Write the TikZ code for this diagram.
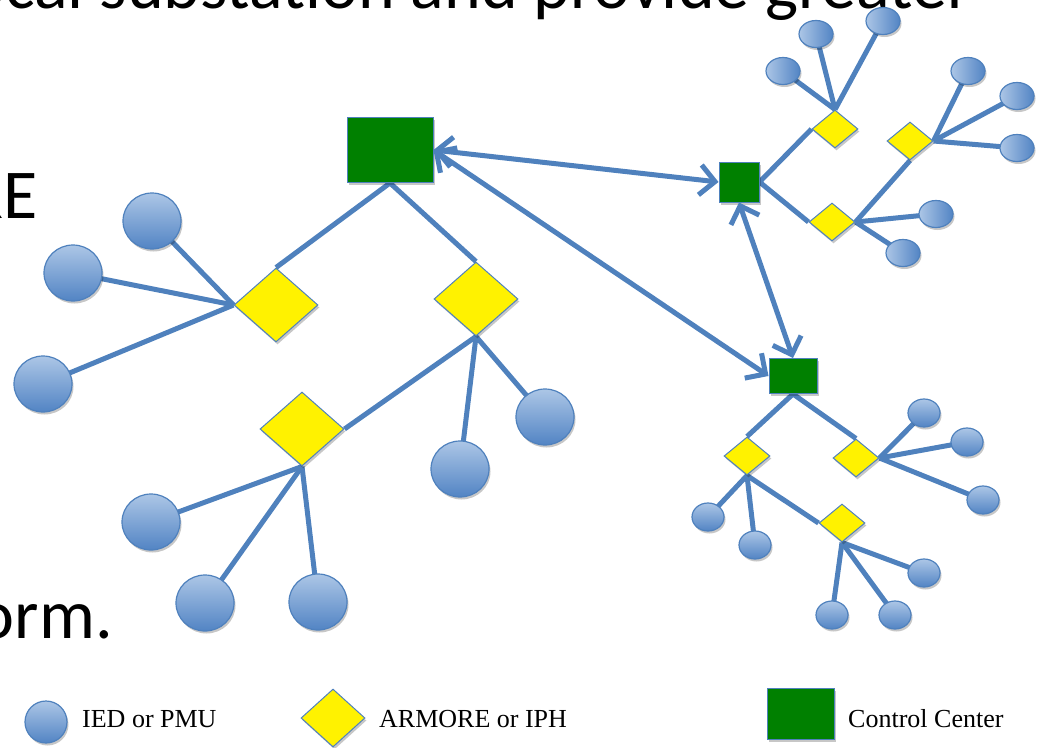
\documentclass[tikz,border=0pt]{standalone}
\usepackage{fontspec}
\setmainfont{Liberation Serif}
\newfontfamily\slidefont{Carlito}
\usetikzlibrary{shapes.geometric,arrows.meta,shadows,backgrounds}
\definecolor{lineblue}{RGB}{79,129,189}
\definecolor{circL}{RGB}{172,198,230}
\definecolor{circD}{RGB}{82,132,196}
\definecolor{ccgreen}{RGB}{0,128,0}
\begin{document}
\begin{tikzpicture}[x=1pt,y=-1pt,
  shad/.style={drop shadow={shadow xshift=1.5pt,shadow yshift=-2.5pt,opacity=0.22,fill=black}},
  iedbase/.style={ellipse, draw=lineblue, line width=1.2pt, inner sep=0pt, shad},
  iedL/.style={iedbase, top color=circL, bottom color=circD, minimum width=58pt, minimum height=56pt},
  iedS/.style={iedbase, left color=circL, right color=circD, minimum width=34pt, minimum height=27pt},
  iedM/.style={iedbase, top color=circL, bottom color=circD, minimum width=32pt, minimum height=28pt},
  arm/.style={diamond, draw=lineblue, line width=1pt, fill=yellow, inner sep=0pt, shad},
  armL/.style={arm, minimum width=84pt, minimum height=74pt},
  armS/.style={arm, minimum width=46pt, minimum height=38pt},
  cc/.style={rectangle, draw=lineblue, line width=1pt, fill=ccgreen, inner sep=0pt, shad},
  link/.style={draw=lineblue, line width=5pt},
  dbl/.style={draw=lineblue, line width=5pt, {Straight Barb[length=15pt,width=30pt]}-{Straight Barb[length=15pt,width=30pt]}},
  slide/.style={inner sep=0pt, font=\slidefont\fontsize{70}{80}\selectfont},
  legtext/.style={anchor=base west, inner sep=0pt, font=\fontsize{26}{30}\selectfont}
]
\useasboundingbox (0,0) rectangle (1038,747);
\clip (0,0) rectangle (1038,747);

% background slide text fragments
\node[slide, anchor=base east] (t1) at (972,8) {local substation and provide greater};
\node[slide, anchor=base east] (t2) at (38,218) {RE};
\node[slide, anchor=base east] (t3) at (113,638) {orm.};

% left tree
\node[cc, minimum width=86pt, minimum height=65pt] (C1) at (390,150) {};
\node[armL] (D1) at (276,305) {};
\node[armL] (D2) at (476,299) {};
\node[armL] (D3) at (302,429) {};
\node[iedL] (L1) at (152,221) {};
\node[iedL] (L2) at (73,273) {};
\node[iedL] (L3) at (43,384) {};
\node[iedL] (L4) at (545,417) {};
\node[iedL] (L5) at (460,469) {};
\node[iedL] (L6) at (151,522) {};
\node[iedL] (L7) at (205,603) {};
\node[iedL] (L8) at (318,602) {};

% top right tree
\node[cc, minimum width=40pt, minimum height=40pt] (C2) at (739,182) {};
\node[armS] (D4) at (835,129) {};
\node[armS] (D5) at (910,141) {};
\node[armS] (D6) at (832,222) {};
\node[iedS] (T1) at (783,71) {};
\node[iedS] (T2) at (816,34) {};
\node[iedS] (T3) at (883,21) {};
\node[iedS] (T4) at (968,71) {};
\node[iedS] (T5) at (1017,96) {};
\node[iedS] (T6) at (1017,148) {};
\node[iedS] (T7) at (936,214) {};
\node[iedS] (T8) at (903,253) {};

% bottom right tree
\node[cc, minimum width=48pt, minimum height=35pt] (C3) at (793,376) {};
\node[armS] (D7) at (747,456) {};
\node[armS] (D8) at (856,458) {};
\node[armS] (D9) at (842,523) {};
\node[iedM] (B1) at (924,413) {};
\node[iedM] (B2) at (967,442) {};
\node[iedM] (B3) at (983,500) {};
\node[iedM] (B4) at (708,517) {};
\node[iedM] (B5) at (755,545) {};
\node[iedM] (B6) at (924,573) {};
\node[iedM] (B7) at (832,615) {};
\node[iedM] (B8) at (895,615) {};

% legend
\node[iedbase, top color=circL, bottom color=circD, minimum width=42pt, minimum height=42pt] (lg1) at (46,722) {};
\node[legtext] (lt1) at (82,727) {IED or PMU};
\node[arm, minimum width=64pt, minimum height=58pt] (lg2) at (333,718) {};
\node[legtext] (lt2) at (379,727) {ARMORE or IPH};
\node[cc, minimum width=67pt, minimum height=51pt] (lg3) at (801,714) {};
\node[legtext] (lt3) at (848,727) {Control Center};

\begin{pgfonlayer}{background}
  % left tree links
  \draw[link] (C1.south) -- (D1.north);
  \draw[link] (C1.south) -- (D2.north);
  \foreach \c in {L1,L2,L3} \draw[link] (D1.west) -- (\c.center);
  \draw[link] (D2.south) -- (D3.east);
  \foreach \c in {L4,L5} \draw[link] (D2.south) -- (\c.center);
  \foreach \c in {L6,L7,L8} \draw[link] (D3.south) -- (\c.center);
  % top right links
  \draw[link] (C2.east) -- (D4.west);
  \draw[link] (C2.east) -- (D6.west);
  \foreach \c in {T1,T2,T3} \draw[link] (D4.north) -- (\c.center);
  \draw[link] (D6.east) -- (D5.south);
  \foreach \c in {T7,T8} \draw[link] (D6.east) -- (\c.center);
  \foreach \c in {T4,T5,T6} \draw[link] (D5.east) -- (\c.center);
  % bottom right links
  \draw[link] (C3.south) -- (D7.north);
  \draw[link] (C3.south) -- (D8.north);
  \foreach \c in {B1,B2,B3} \draw[link] (D8.east) -- (\c.center);
  \foreach \c in {B4,B5} \draw[link] (D7.south) -- (\c.center);
  \draw[link] (D7.south) -- (D9.west);
  \foreach \c in {B6,B7,B8} \draw[link] (D9.south) -- (\c.center);
\end{pgfonlayer}

% control center connections
\draw[dbl] (C1.east) -- (C2.west);
\draw[dbl] (C1.east) -- (C3.west);
\draw[dbl] (C2.south) -- (C3.north);
\end{tikzpicture}
\end{document}
